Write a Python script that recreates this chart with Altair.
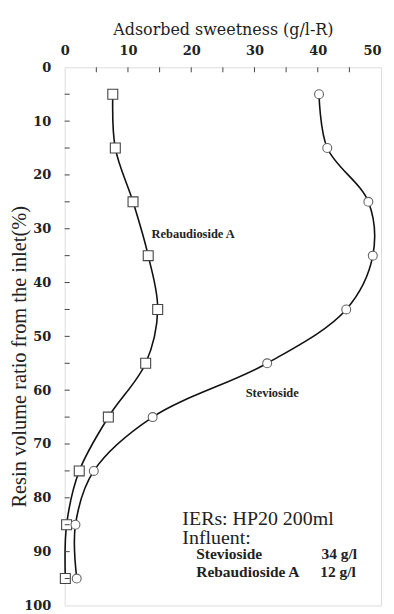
import altair as alt
import pandas as pd

ratio = [5, 15, 25, 35, 45, 55, 65, 75, 85, 95]
stevioside = [40.2, 41.5, 48.0, 48.7, 44.5, 32.0, 13.9, 4.6, 1.7, 1.9]
rebaudioside = [7.6, 8.0, 10.8, 13.2, 14.7, 12.8, 6.9, 2.3, 0.3, 0.1]

x_ticks = [5, 10, 15, 20, 25, 30, 35, 40, 45]
y_ticks = [5, 10, 15, 20, 25, 30, 35, 40, 45, 50, 55, 60, 65, 70, 75, 80, 85, 90, 95]

y_title = "Resin volume ratio from the inlet(%)"

labels = ["Rebaudioside A", "Stevioside"]
label_x = [20.3, 32.8]
label_y = [31.0, 60.5]

note_text = ["IERs: HP20 200ml", "Influent:"]
note_x = [18.6, 18.6]
note_y = [83.9, 87.4]

inf_text = ["Stevioside", "34 g/l", "Rebaudioside A", "12 g/l"]
inf_x = [20.8, 40.6, 20.8, 40.4]
inf_y = [90.5, 90.5, 93.7, 93.7]

FONT = "Liberation Serif"
FONT2 = "DejaVu Serif"

df = pd.DataFrame({
    "ratio": ratio * 2,
    "value": stevioside + rebaudioside,
    "series": ["Stevioside"] * len(ratio) + ["Rebaudioside A"] * len(ratio),
})

xscale = alt.Scale(domain=[0, 50], nice=False, zero=False)
yscale = alt.Scale(domain=[0, 100], reverse=True, nice=False, zero=False)

base = alt.Chart(df)

xenc = alt.X(
    "value:Q", scale=xscale,
    axis=alt.Axis(
        orient="top", title="Adsorbed sweetness (g/l-R)", values=[0, 10, 20, 30, 40, 50],
        tickSize=0, domain=False, grid=False, labelPadding=10,
        labelAlign=alt.expr("datum.value == 50 ? 'right' : 'center'"),
        labelFont=FONT2, labelFontSize=13, labelFontWeight="bold", labelColor="#222",
        titleFont=FONT2, titleFontSize=16, titleFontWeight="normal", titleColor="#222",
        titlePadding=7,
    ),
)
yenc = alt.Y(
    "ratio:Q", scale=yscale,
    axis=alt.Axis(
        title=None, values=[0, 10, 20, 30, 40, 50, 60, 70, 80, 90, 100],
        tickSize=0, domain=False, grid=False, labelPadding=14,
        labelFont=FONT2, labelFontSize=13, labelFontWeight="bold", labelColor="#222",
    ),
)

lines = base.mark_line(interpolate="catmull-rom", color="#111", strokeWidth=1.6).encode(
    x=xenc, y=yenc, detail="series:N", order="ratio:Q"
)

squares = alt.Chart(df[df.series == "Rebaudioside A"]).mark_point(
    shape="square", filled=True, fill="white", stroke="#444", strokeWidth=1.1, size=100, opacity=1
).encode(x=alt.X("value:Q", scale=xscale), y=alt.Y("ratio:Q", scale=yscale))

circles = alt.Chart(df[df.series == "Stevioside"]).mark_point(
    shape="circle", filled=True, fill="white", stroke="#666", strokeWidth=1.1, size=80, opacity=1
).encode(x=alt.X("value:Q", scale=xscale), y=alt.Y("ratio:Q", scale=yscale))

top_ticks = alt.Chart(pd.DataFrame({"t": x_ticks})).mark_rule(color="#444", strokeWidth=1).encode(
    x=alt.X("t:Q", scale=xscale), y=alt.value(0), y2=alt.value(5)
)
left_ticks = alt.Chart(pd.DataFrame({"t": y_ticks})).mark_rule(color="#444", strokeWidth=1).encode(
    y=alt.Y("t:Q", scale=yscale), x=alt.value(0), x2=alt.value(5)
)

ytitle = alt.Chart(pd.DataFrame({"t": [y_title]})).mark_text(
    font=FONT, fontSize=20.5, color="#222", angle=270, align="center", baseline="middle"
).encode(x=alt.value(-45), y=alt.value(291), text="t:N")

curve_labels = alt.Chart(pd.DataFrame({"x": label_x, "y": label_y, "t": labels})).mark_text(
    font=FONT, fontSize=12.5, fontWeight="bold", color="#222", align="center", baseline="middle"
).encode(x=alt.X("x:Q", scale=xscale), y=alt.Y("y:Q", scale=yscale), text="t:N")

notes = alt.Chart(pd.DataFrame({"x": note_x, "y": note_y, "t": note_text})).mark_text(
    font=FONT, fontSize=20, color="#222", align="left", baseline="middle"
).encode(x=alt.X("x:Q", scale=xscale), y=alt.Y("y:Q", scale=yscale), text="t:N")

influent = alt.Chart(pd.DataFrame({"x": inf_x, "y": inf_y, "t": inf_text})).mark_text(
    font=FONT, fontSize=15.5, fontWeight="bold", color="#222", align="left", baseline="middle"
).encode(x=alt.X("x:Q", scale=xscale), y=alt.Y("y:Q", scale=yscale), text="t:N")

chart = alt.layer(
    lines, squares, circles, top_ticks, left_ticks, ytitle, curve_labels, notes, influent
).properties(
    width=318, height=541,
    autosize=alt.AutoSizeParams(type="none"),
    padding={"left": 57, "top": 58, "right": 5, "bottom": 10},
).configure_view(
    stroke="#333", strokeWidth=1.3
).configure(background="white")

chart.save("out.html", embed_options={"renderer": "svg", "actions": False})
